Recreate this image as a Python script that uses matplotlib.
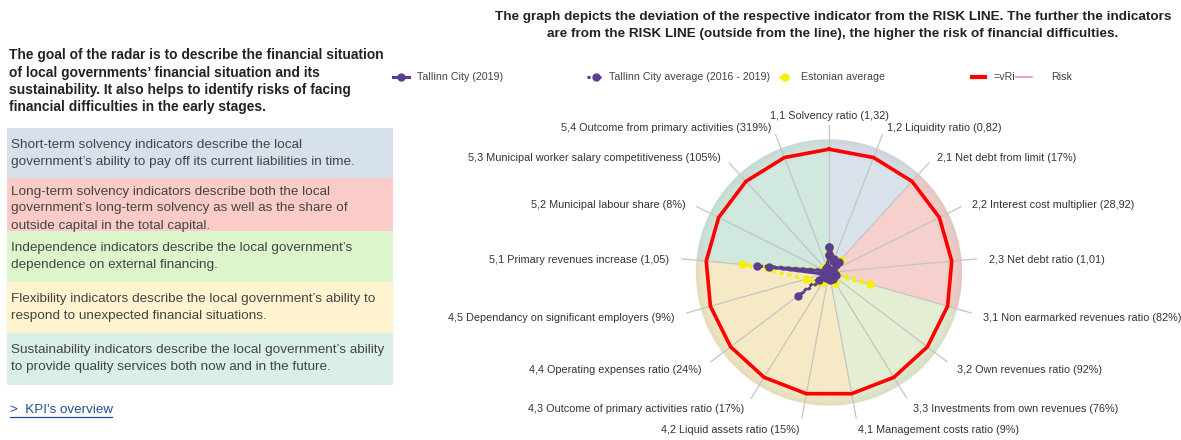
import numpy as np
import matplotlib
matplotlib.use("Agg")
import matplotlib.pyplot as plt
from matplotlib.lines import Line2D
from matplotlib.patches import Rectangle
from matplotlib.transforms import offset_copy

plt.rcParams['font.family'] = ['Liberation Sans', 'DejaVu Sans']

W, H = 1181, 440

# ---- data -------------------------------------------------------------
indicators = [
    "1,1 Solvency ratio (1,32)",
    "1,2 Liquidity ratio (0,82)",
    "2,1 Net debt from limit (17%)",
    "2,2 Interest cost multiplier (28,92)",
    "2,3 Net debt ratio (1,01)",
    "3,1 Non earmarked revenues ratio (82%)",
    "3,2 Own revenues ratio (92%)",
    "3,3 Investments from own revenues (76%)",
    "4,1 Management costs ratio (9%)",
    "4,2 Liquid assets ratio (15%)",
    "4,3 Outcome of primary activities ratio (17%)",
    "4,4 Operating expenses ratio (24%)",
    "4,5 Dependancy on significant employers (9%)",
    "5,1 Primary revenues increase (1,05)",
    "5,2 Municipal labour share (8%)",
    "5,3 Municipal worker salary competitiveness (105%)",
    "5,4 Outcome from primary activities (319%)",
]

# deviation from the risk line (risk line = 1)
tallinn_2019 = [0.21, 0.12, 0.08, 0.03, 0.03, 0.06, 0.04, 0.05, 0.06,
                0.03, 0.04, 0.10, 0.05, 0.485, 0.03, 0.04, 0.03]
tallinn_avg = [0.14, 0.10, 0.12, 0.04, 0.03, 0.05, 0.05, 0.06, 0.05,
               0.04, 0.05, 0.31, 0.04, 0.59, 0.04, 0.04, 0.05]
estonian_avg = [0.18, 0.08, 0.14, 0.05, 0.04, 0.345, 0.04, 0.10, 0.05,
                0.05, 0.09, 0.13, 0.19, 0.71, 0.05, 0.06, 0.04]
risk_line = [1.0] * len(indicators)

# indicator groups: index of first indicator in each group
group_starts = [0, 2, 5, 8, 13]
group_colors = ["#d9e1ea", "#f5d0cc", "#e4eed3", "#f6eac6", "#d0e8de"]

intro_lines = [
    "The goal of the radar is to describe the financial situation",
    "of local governments\u2019 financial situation and its",
    "sustainability. It also helps to identify risks of facing",
    "financial difficulties in the early stages.",
]
box_texts = [
    ["Short-term solvency indicators describe the local",
     "government\u2019s ability to pay off its current liabilities in time."],
    ["Long-term solvency indicators describe both the local",
     "government\u2019s long-term solvency as well as the share of",
     "outside capital in the total capital."],
    ["Independence indicators describe the local government\u2019s",
     "dependence on external financing."],
    ["Flexibility indicators describe the local government\u2019s ability to",
     "respond to unexpected financial situations."],
    ["Sustainability indicators describe the local government\u2019s ability",
     "to provide quality services both now and in the future."],
]
box_fill = ["#d7e1eb", "#fbcbc7", "#dcf5ca", "#fff4cf", "#daf0e6"]

title_lines = [
    "The graph depicts the deviation of the respective indicator from the RISK LINE. The further the indicators",
    "are from the RISK LINE (outside from the line), the higher the risk of financial difficulties.",
]

# ---- figure -----------------------------------------------------------
fig = plt.figure(figsize=(W / 100, H / 100), dpi=100)
fig.patch.set_facecolor("white")

bg = fig.add_axes([0, 0, 1, 1])
bg.set_xlim(0, W)
bg.set_ylim(H, 0)
bg.axis("off")

# left explanatory panel
for i, line in enumerate(intro_lines):
    bg.text(9, 55 + i * 17.5, line, fontsize=9.9, fontweight="bold",
            color="#222222", va="center", ha="left")

box_tops = [128, 178, 231, 282, 333, 385]
first_line = [17, 13.5, 17, 17, 17]
for k, lines in enumerate(box_texts):
    top, bot = box_tops[k], box_tops[k + 1]
    bg.add_patch(Rectangle((7, top), 386, bot - top, facecolor=box_fill[k],
                           edgecolor="none"))
    for j, line in enumerate(lines):
        bg.text(11, top + first_line[k] + j * 17, line, fontsize=9.7,
                color="#444444", va="center", ha="left")

bg.text(10, 410, ">  KPI's overview", fontsize=9.6, color="#1f4e8c",
        va="center", ha="left")
bg.plot([10, 112], [417, 417], color="#1f4e8c", lw=0.9)

# title
for i, line in enumerate(title_lines):
    bg.text(833, 17 + i * 17.5, line, fontsize=9.7, fontweight="bold",
            color="#222222", va="center", ha="center")

# legend
purple = "#5b3f8f"
yellow = "#f7f000"
leg_y = 77
leg_fs = 7.7
bg.add_line(Line2D([393, 409], [leg_y, leg_y], color=purple, lw=2.2))
bg.plot([401], [leg_y], "o", color=purple, ms=5)
bg.text(417, leg_y, "Tallinn City (2019)", fontsize=leg_fs, color="#444444", va="center")
bg.add_line(Line2D([587, 601], [leg_y, leg_y], color=purple, lw=2.2, ls=(0, (1, 1))))
bg.plot([596], [leg_y], "o", color=purple, ms=5)
bg.text(609, leg_y, "Tallinn City average (2016 - 2019)", fontsize=leg_fs, color="#444444", va="center")
bg.add_line(Line2D([779, 791], [leg_y, leg_y], color=yellow, lw=2.2, ls=(0, (1, 1))))
bg.plot([785], [leg_y], "o", color=yellow, ms=5)
bg.text(801, leg_y, "Estonian average", fontsize=leg_fs, color="#444444", va="center")
bg.add_line(Line2D([972, 985], [leg_y, leg_y], color="#ff0000", lw=3))
bg.text(993, leg_y, "=vRi", fontsize=leg_fs, color="#444444", va="center")
bg.add_line(Line2D([1016, 1032], [leg_y, leg_y], color="#ff8f8f", lw=1.2))
bg.text(1051, leg_y, "Risk", fontsize=leg_fs, color="#444444", va="center")

# ---- radar ------------------------------------------------------------
cx, cy, r_px = 829, 272.5, 123.3
R = 1.35
size = R * r_px
ax = fig.add_axes([(cx - size) / W, (H - cy - size) / H, 2 * size / W, 2 * size / H],
                  projection="polar")
ax.set_theta_zero_location("N")
ax.set_theta_direction(-1)
ax.set_ylim(0, R)
ax.axis("off")
ax.patch.set_alpha(0)

n = len(indicators)
step = 2 * np.pi / n
theta = np.arange(n) * step

# coloured group sectors
for k, start in enumerate(group_starts):
    end = group_starts[(k + 1) % len(group_starts)]
    span = ((end - start) % n) * step
    ax.bar(start * step, 1.08, width=span, bottom=0, align="edge",
           color=group_colors[k], edgecolor="none", zorder=1)

# soft grey rim
rim_edges = np.linspace(0.95, 1.08, 14)
for i in range(len(rim_edges) - 1):
    a = 0.02 + 0.16 * (i / (len(rim_edges) - 2)) ** 1.5
    ax.bar(0, rim_edges[i + 1] - rim_edges[i], width=2 * np.pi,
           bottom=rim_edges[i], align="edge", color="#9a9a90", alpha=a,
           edgecolor="none", zorder=2)

# spokes
for t in theta:
    ax.plot([t, t], [0, 1.2], color="#c4c4c4", lw=0.9, zorder=3)

def closed(vals):
    v = np.asarray(vals, dtype=float)
    return np.append(theta, theta[0]), np.append(v, v[0])

t, v = closed(risk_line)
ax.plot(t, v, color="#ff0000", lw=2.6, zorder=4)

t, v = closed(estonian_avg)
ax.plot(t, v, color=yellow, lw=2.4, ls=(0, (1.2, 1.2)), marker="o", ms=5,
        zorder=5)
t, v = closed(tallinn_avg)
ax.plot(t, v, color=purple, lw=2.2, ls=(0, (1.2, 1.2)), marker="o", ms=5,
        zorder=6)
t, v = closed(tallinn_2019)
ax.plot(t, v, color=purple, lw=2.0, marker="o", ms=5, zorder=7)

# indicator labels
for i, name in enumerate(indicators):
    th = theta[i]
    s = np.sin(th)
    if abs(s) < 1e-6:
        ha, r, shift = "center", 1.27, 0.0
    else:
        ha = "left" if s > 0 else "right"
        r = 1.30
        shift = 2.5 + 2.5 * np.cos(th)
    tr = offset_copy(ax.transData, fig=fig, x=0, y=-shift * 0.72, units="points")
    ax.text(th, r, name, fontsize=7.8, color="#333333", ha=ha, va="center",
            transform=tr, clip_on=False, zorder=8)

fig.savefig("out.png", dpi=100, facecolor="white")
